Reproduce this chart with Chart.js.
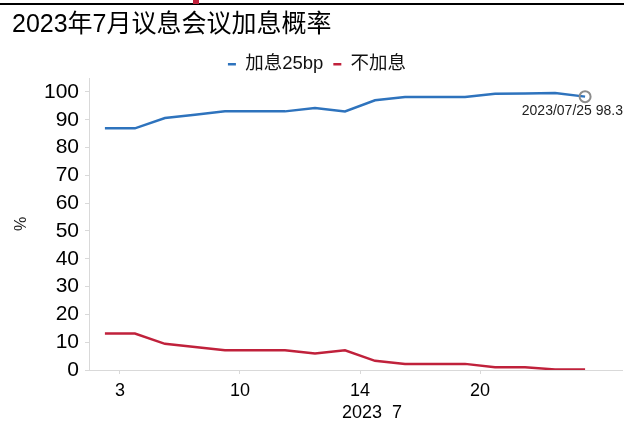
<!DOCTYPE html>
<html>
<head>
<meta charset="utf-8">
<script src="https://cdn.jsdelivr.net/npm/chart.js@4"></script>
<style>
    html, body { margin: 0; padding: 0; background: #fff; }
    #wrap { position: relative; width: 624px; height: 424px; }
    #topLine { position: absolute; left: 0; top: 3px; width: 624px; height: 2px; background: #000; }
    #topMark { position: absolute; left: 193px; top: 0; width: 6px; height: 4px; background: #c0213b; }
    canvas { position: absolute; left: 0; top: 0; }
</style>
</head>
<body>
<div id="wrap">
    <canvas id="chart" width="624" height="424"></canvas>
    <div id="topLine"></div>
    <div id="topMark"></div>
</div>
<script>
const dates = ['2023/06/30', '2023/07/03', '2023/07/05', '2023/07/06', '2023/07/07',
    '2023/07/10', '2023/07/11', '2023/07/12', '2023/07/13', '2023/07/14',
    '2023/07/17', '2023/07/18', '2023/07/19', '2023/07/20', '2023/07/21',
    '2023/07/24', '2023/07/25'];
const hike25 = [86.9, 86.9, 90.6, 91.8, 93.0, 93.0, 93.0, 94.2, 93.0, 97.0,
    98.2, 98.2, 98.2, 99.3, 99.4, 99.6, 98.3];
const noHike = [13.1, 13.1, 9.4, 8.3, 7.1, 7.1, 7.1, 5.9, 7.1, 3.3,
    2.2, 2.2, 2.2, 1.0, 1.0, 0.2, 0.2];
const tickIdx = [1, 5, 9, 13];   // dates that get a label on the x axis
const yTicks = [0, 10, 20, 30, 40, 50, 60, 70, 80, 90, 100];
const seriesNames = ['加息25bp', '不加息'];
const titleText = '2023年7月议息会议加息概率';
const xTitle = '2023  7';

const blue = '#2e73bd';
const red = '#c0213b';
const axisGrey = '#d9d9d9';
const fontFam = '"Liberation Sans", "Noto Sans CJK SC", sans-serif';

const toXY = arr => arr.map((v, i) => ({ x: i, y: v }));

// circle + label on the last point of the first series, and the x axis title
const extras = {
    id: 'extras',
    afterDatasetsDraw(chart) {
        const pts = chart.getDatasetMeta(0).data;
        const p = pts[pts.length - 1];
        const ctx = chart.ctx;
        const last = hike25.length - 1;
        ctx.save();
        ctx.beginPath();
        ctx.arc(p.x, p.y, 5.5, 0, Math.PI * 2);
        ctx.strokeStyle = '#8c8c8c';
        ctx.lineWidth = 2;
        ctx.stroke();
        ctx.font = '14px "Liberation Sans", sans-serif';
        ctx.fillStyle = '#222';
        ctx.textAlign = 'right';
        ctx.textBaseline = 'middle';
        ctx.fillText(`${dates[last]} ${hike25[last]}`, chart.width - 1, p.y + 15);

        ctx.font = '18px ' + fontFam;
        ctx.fillStyle = '#000';
        ctx.textAlign = 'left';
        ctx.fillText(xTitle, chart.chartArea.left + 253, chart.chartArea.bottom + 43);
        ctx.restore();
    }
};

new Chart(document.getElementById('chart'), {
    type: 'line',
    data: {
        datasets: [
            { label: seriesNames[0], data: toXY(hike25), borderColor: blue, backgroundColor: blue,
              borderWidth: 2.5, pointRadius: 0, tension: 0 },
            { label: seriesNames[1], data: toXY(noHike), borderColor: red, backgroundColor: red,
              borderWidth: 2.5, pointRadius: 0, tension: 0 }
        ]
    },
    options: {
        responsive: false,
        animation: false,
        layout: { padding: { left: 12, right: 2, top: 0, bottom: 0 } },
        plugins: {
            title: {
                display: true, text: titleText, align: 'start', color: '#000',
                font: { family: fontFam, size: 25, weight: 'normal' },
                padding: { top: 10, bottom: 5 }
            },
            legend: {
                display: true, position: 'top', align: 'center', maxHeight: 33,
                labels: {
                    color: '#111', usePointStyle: true, pointStyle: 'line',
                    pointStyleWidth: 8, boxHeight: 3, padding: 10,
                    font: { family: fontFam, size: 18.5 }
                }
            },
            tooltip: { enabled: false }
        },
        scales: {
            x: {
                type: 'linear', min: -0.53, max: 17.23,
                afterBuildTicks: s => { s.ticks = tickIdx.map(i => ({ value: i - 0.5 })); },
                afterFit: s => { s.height = 54; },
                ticks: {
                    autoSkip: false, maxRotation: 0, color: '#000', padding: 6,
                    font: { family: fontFam, size: 18 },
                    callback: v => String(parseInt(dates[Math.round(v + 0.5)].slice(-2), 10))
                },
                grid: { drawOnChartArea: false, color: axisGrey, tickLength: 4 },
                border: { color: axisGrey }
            },
            y: {
                min: 0, max: 105,
                afterBuildTicks: s => { s.ticks = yTicks.map(v => ({ value: v })); },
                afterFit: s => { s.width = 77; },
                ticks: { color: '#000', padding: 6, font: { family: fontFam, size: 21 } },
                grid: { drawOnChartArea: false, color: axisGrey, tickLength: 4 },
                border: { color: axisGrey },
                title: {
                    display: true, text: '%', color: '#222',
                    font: { family: fontFam, size: 16 }, padding: { top: 0, bottom: 0 }
                }
            }
        }
    },
    plugins: [extras]
});
</script>
</body>
</html>
